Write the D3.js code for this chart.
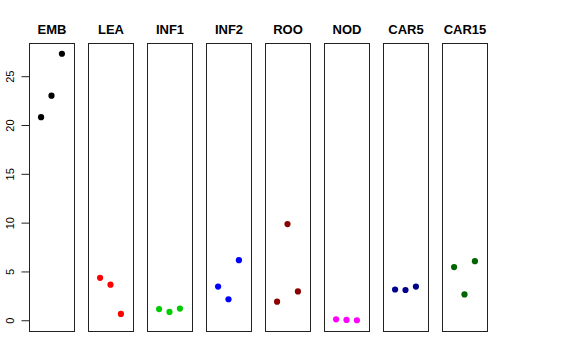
<!DOCTYPE html>
<html>
<head>
<meta charset="utf-8">
<script src="https://cdn.jsdelivr.net/npm/d3@7"></script>
<style>
  body { margin: 0; background: #fff; }
  text { font-family: "Liberation Sans", Arial, sans-serif; }
</style>
</head>
<body>
<div id="chart"></div>
<script>
// panel names and colours
var groups = ["EMB", "LEA", "INF1", "INF2", "ROO", "NOD", "CAR5", "CAR15"];
var colours = ["#000000", "#FF0000", "#00CD00", "#0000FF", "#8B0000", "#FF00FF", "#00008B", "#006400"];

// three replicate values per panel
var EMB = [20.8, 23.0, 27.3];
var LEA = [4.35, 3.65, 0.65];
var INF1 = [1.15, 0.85, 1.2];
var INF2 = [3.45, 2.15, 6.15];
var ROO = [1.9, 9.85, 2.95];
var NOD = [0.1, 0.03, 0.0];
var CAR5 = [3.15, 3.1, 3.45];
var CAR15 = [5.45, 2.65, 6.05];
var values = [EMB, LEA, INF1, INF2, ROO, NOD, CAR5, CAR15];

var yTicks = [0, 5, 10, 15, 20, 25];

var width = 576, height = 360;
// note: "top" is taken by window.top, so use plotTop
var plotTop = 43, plotBottom = 331;
var panelLeft = 29, panelW = 45, panelStep = 59;

var svg = d3.select("#chart").append("svg")
  .attr("width", width)
  .attr("height", height);

// shared y scale, R style 4% padding
var y = d3.scaleLinear().domain([-1.1, 28.4]).range([plotBottom, plotTop]);

groups.forEach(function(name, i) {
  var x0 = panelLeft + i * panelStep;
  var x = d3.scaleLinear().domain([-0.16, 4.16]).range([x0, x0 + panelW]);
  var g = svg.append("g");

  g.append("rect")
    .attr("x", x0 + 0.5)
    .attr("y", plotTop + 0.5)
    .attr("width", panelW)
    .attr("height", plotBottom - plotTop)
    .attr("fill", "none")
    .attr("stroke", "#222")
    .attr("stroke-width", 1);

  g.append("text")
    .attr("x", x0 + panelW / 2 + 0.5)
    .attr("y", 34)
    .attr("text-anchor", "middle")
    .style("font-size", "13px")
    .style("font-weight", "bold")
    .text(name);

  g.selectAll("circle")
    .data(values[i])
    .join("circle")
    .attr("cx", function(d, j) { return x(j + 1); })
    .attr("cy", function(d) { return y(d); })
    .attr("r", 3.1)
    .attr("fill", colours[i]);

  // y axis only on the first panel
  if (i === 0) {
    var ax = svg.append("g")
      .attr("transform", "translate(" + (x0 + 0.5) + ",0)")
      .call(d3.axisLeft(y).tickValues(yTicks).tickSize(8).tickPadding(0).tickFormat(d3.format("d")));
    ax.select(".domain").attr("d", "M0," + y(0) + "V" + y(25)).attr("stroke", "#222");
    ax.selectAll(".tick line").attr("stroke", "#222");
    ax.selectAll(".tick text")
      .attr("x", null).attr("dy", null)
      .attr("text-anchor", "middle")
      .attr("transform", "translate(-15.5,0) rotate(-90)")
      .style("font-size", "11px")
      .style("font-family", "'Liberation Sans', Arial, sans-serif")
      .attr("fill", "#000");
  }
});
</script>
</body>
</html>
